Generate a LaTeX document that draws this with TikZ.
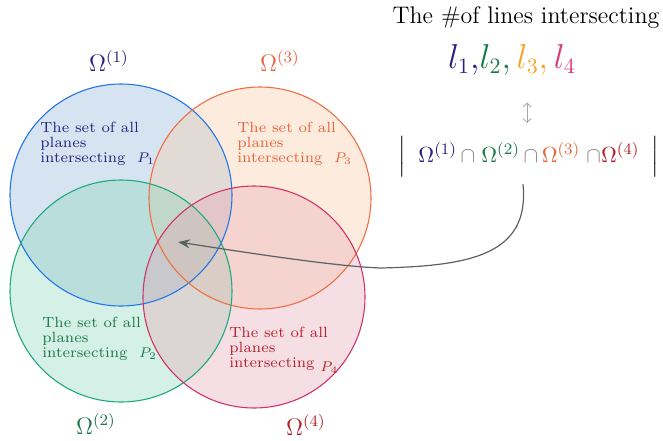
\documentclass[tikz,border=0pt]{standalone}
\usepackage{amsmath}
\usepackage{amssymb}
\usepackage{xcolor}
\usetikzlibrary{arrows.meta}

\definecolor{setblue}{HTML}{2277E6}
\definecolor{setorange}{HTML}{EE6F45}
\definecolor{setgreen}{HTML}{1FA882}
\definecolor{setpink}{HTML}{CF3568}
\definecolor{fillblue}{HTML}{8AAFD4}
\definecolor{fillorange}{HTML}{F9C8A0}
\definecolor{fillgreen}{HTML}{86D4B8}
\definecolor{fillpink}{HTML}{E6A4B2}
\definecolor{txtnavy}{HTML}{27217F}
\definecolor{txtorange}{HTML}{E8643C}
\definecolor{txtgreen}{HTML}{1B7A4A}
\definecolor{txtred}{HTML}{B3202A}
\definecolor{lyellow}{HTML}{F5A623}
\definecolor{lpink}{HTML}{D63A78}
\definecolor{arrowgray}{HTML}{5A6262}

\begin{document}
\begin{tikzpicture}[x=0.5pt,y=-0.5pt,
  settext/.style={align=left,anchor=north west,inner sep=0pt,font=\fontsize{7.4}{7.5}\selectfont},
  omlabel/.style={inner sep=0pt,font=\large}]
\useasboundingbox (0,0) rectangle (663,440);
% the four sets
\foreach \cx/\cy/\fc in {121/195/fillblue,260/198/fillorange,121/291/fillgreen,254/297/fillpink}{
\fill[\fc,fill opacity=0.35] (\cx,\cy) circle[radius=55.5pt];
}
\foreach \cx/\cy/\lc in {121/195/setblue,260/198/setorange,121/291/setgreen,254/297/setpink}{
\draw[\lc,line width=0.55pt] (\cx,\cy) circle[radius=55.5pt];
}
% labels of the sets
\node[omlabel,txtnavy] (om1) at (109,61) {$\Omega^{(1)}$};
\node[omlabel,txtorange] (om3) at (280,61) {$\Omega^{(3)}$};
\node[omlabel,txtgreen] (om2) at (96,424) {$\Omega^{(2)}$};
\node[omlabel,txtred] (om4) at (306,425) {$\Omega^{(4)}$};
\node[settext,txtnavy] (set1) at (40,122) {The set of all\\planes\\intersecting\ \ $P_1$};
\node[settext,txtorange] (set3) at (237,122) {The set of all\\planes\\intersecting\ \ $P_3$};
\node[settext,txtgreen] (set2) at (42,317) {The set of all\\planes\\intersecting\ \ $P_2$};
\node[settext,txtred] (set4) at (229,327) {The set of all\\planes\\intersecting\ \raisebox{-2pt}{$P_4$}};
% right hand side
\node[font=\large] (title) at (526,18) {The \#of lines intersecting};
\node[font=\fontsize{16}{18}\selectfont] (lset) at (512,60) {$\textcolor{txtnavy}{l_1,}\textcolor{txtgreen}{l_2,}\,\textcolor{lyellow}{l_3,}\,\textcolor{lpink}{l_4}$};
\node[font=\fontsize{11.2}{13}\selectfont] (inter) at (529,157) {$\Big|\;\;\textcolor{txtnavy}{\Omega^{(1)}}\,\textcolor{gray}{\cap}\;\textcolor{txtgreen}{\Omega^{(2)}}\,\textcolor{gray}{\cap}\,\textcolor{txtorange}{\Omega^{(3)}}\;\textcolor{gray}{\cap}\textcolor{txtred}{\Omega^{(4)}}\;\;\Big|$};
\draw[gray!70,line width=0.4pt,{Straight Barb[length=2pt]}-{Straight Barb[length=2pt]}] (lset.south -| 527,0) ++(0,20) -- (527,123);
\coordinate (core) at (178,242);
\draw[arrowgray,line width=0.6pt,-{Stealth[length=6pt,width=4.5pt]}] (inter.south -| 523,0) .. controls (530,255) and (470,266) .. (380,268) .. controls (330,266) and (230,250) .. (core);
\end{tikzpicture}
\end{document}
